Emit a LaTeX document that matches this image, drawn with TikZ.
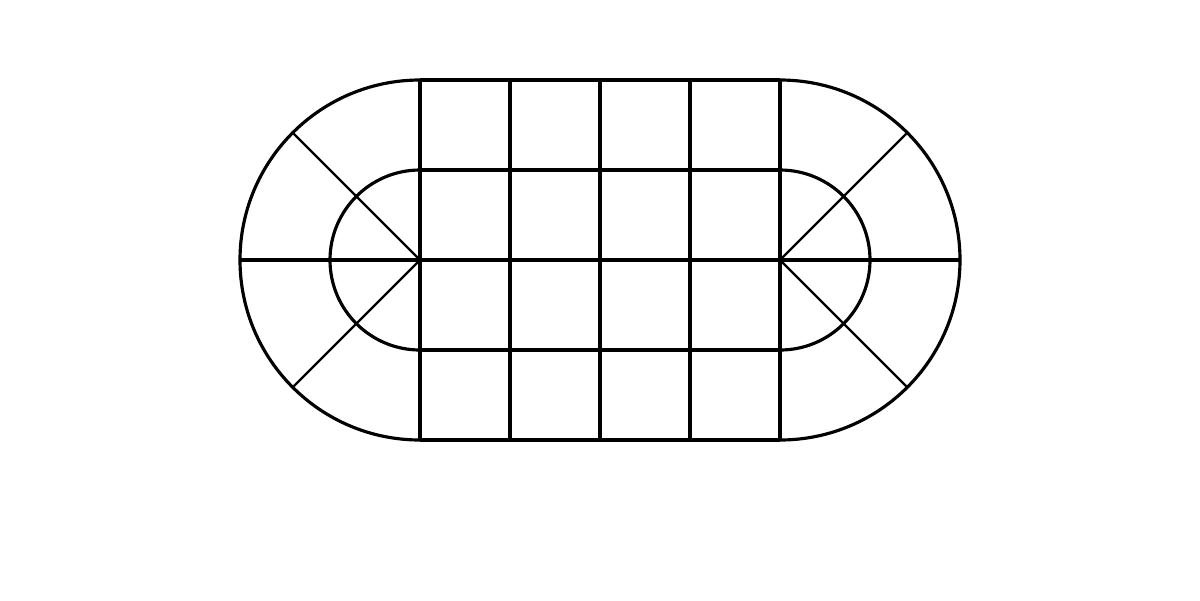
\documentclass[tikz,border=0pt]{standalone}
\begin{document}
\begin{tikzpicture}[x=0.02cm,y=-0.02cm,
  gridline/.style={line width=2.1pt},
  arcline/.style={line width=1.8pt},
  diagline/.style={line width=1.3pt}]
\useasboundingbox (0,0) rectangle (1200,600);
% outer stadium
\draw[arcline] (420,80) arc[start angle=270,end angle=90,radius=180];
\draw[arcline] (780,80) arc[start angle=-90,end angle=90,radius=180];
% inner stadium
\draw[arcline] (420,170) arc[start angle=270,end angle=90,radius=90];
\draw[arcline] (780,170) arc[start angle=-90,end angle=90,radius=90];
% horizontal lines
\foreach \y in {80,170,350,440} \draw[gridline] (420,\y) -- (780,\y);
\draw[gridline] (240,260) -- (960,260);
% vertical lines
\foreach \x in {420,510,600,690,780} \draw[gridline] (\x,80) -- (\x,440);
% diagonals
\foreach \a in {135,225} \draw[diagline] (420,260) -- ++(\a:180);
\foreach \a in {45,-45} \draw[diagline] (780,260) -- ++(\a:180);
\end{tikzpicture}
\end{document}
